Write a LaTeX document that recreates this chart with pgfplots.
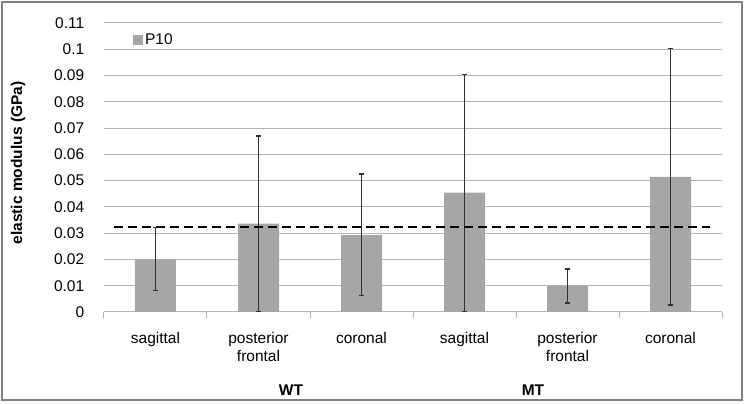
\documentclass[border=0pt]{standalone}
\usepackage{pgfplots}
\pgfplotsset{compat=1.18}
\usepackage{fontspec}
\setmainfont{Liberation Sans}
\definecolor{barc}{RGB}{166,166,166}
\definecolor{gridc}{RGB}{180,180,180}
\definecolor{errc}{RGB}{50,50,50}
\definecolor{borderc}{RGB}{128,128,128}
\newcommand{\cf}{\fontsize{15.5}{18}\selectfont}
\begin{document}
\begin{tikzpicture}[x=1pt,y=1pt]
\useasboundingbox (-104,-92) rectangle (641,312);
\draw[borderc, line width=2pt] (-102,-88) rectangle (638,310);
\begin{axis}[
  at={(0,0)}, anchor=south west,
  scale only axis, width=618pt, height=289pt,
  xmin=-0.5, xmax=5.5, ymin=0, ymax=0.11,
  axis x line=bottom, axis y line=left,
  axis line style={-},
  x axis line style={gridc, line width=1pt},
  y axis line style={draw=none},
  ymajorgrids, grid style={gridc, line width=1pt},
  ytick={0,0.01,0.02,0.03,0.04,0.05,0.06,0.07,0.08,0.09,0.1,0.11},
  yticklabels={0,0.01,0.02,0.03,0.04,0.05,0.06,0.07,0.08,0.09,0.1,0.11},
  ytick style={draw=none},
  yticklabel style={font=\cf, xshift=-12pt},
  xtick={0,1,2,3,4,5},
  xticklabels={sagittal,posterior\\frontal,coronal,sagittal,posterior\\frontal,coronal},
  xticklabel style={font=\cf, align=center, anchor=north, yshift=-12pt},
  major x tick style={draw=none},
  minor xtick={-0.5,0.5,1.5,2.5,3.5,4.5,5.5},
  minor x tick style={gridc, line width=1pt},
  minor tick length=6pt, tick align=outside,
  ybar, bar width=41pt,
  legend style={at={(0.042,0.941)}, anchor=west, draw=none, fill=none, font=\cf,
    legend cell align=left},
  legend image code/.code={\fill[barc] (0pt,-5pt) rectangle (10pt,5pt);},
]
\addplot[fill=barc, draw=none,
  error bars/.cd, y dir=both, y explicit,
  error bar style={errc, line width=1.3pt},
  error mark options={errc, rotate=90, mark size=2.5pt, line width=1.3pt}]
  coordinates {
  (0,0.0200) += (0,0.0122) -= (0,0.0119)
  (1,0.0336) += (0,0.0334) -= (0,0.0336)
  (2,0.0293) += (0,0.0232) -= (0,0.0230)
  (3,0.0454) += (0,0.0449) -= (0,0.0454)
  (4,0.0099) += (0,0.0065) -= (0,0.0065)
  (5,0.0514) += (0,0.0488) -= (0,0.0487)
  };
\addlegendentry{P10}
\addplot[sharp plot, black, line width=2pt, dash pattern=on 9pt off 5pt, forget plot]
  coordinates {(-0.4,0.0324) (5.38,0.0324)};
\end{axis}
\node[rotate=90, font=\cf\bfseries] at (-86,149) {elastic modulus (GPa)};
\node[font=\cf\bfseries] at (187,-78) {WT};
\node[font=\cf\bfseries] at (429,-78) {MT};
\end{tikzpicture}
\end{document}
